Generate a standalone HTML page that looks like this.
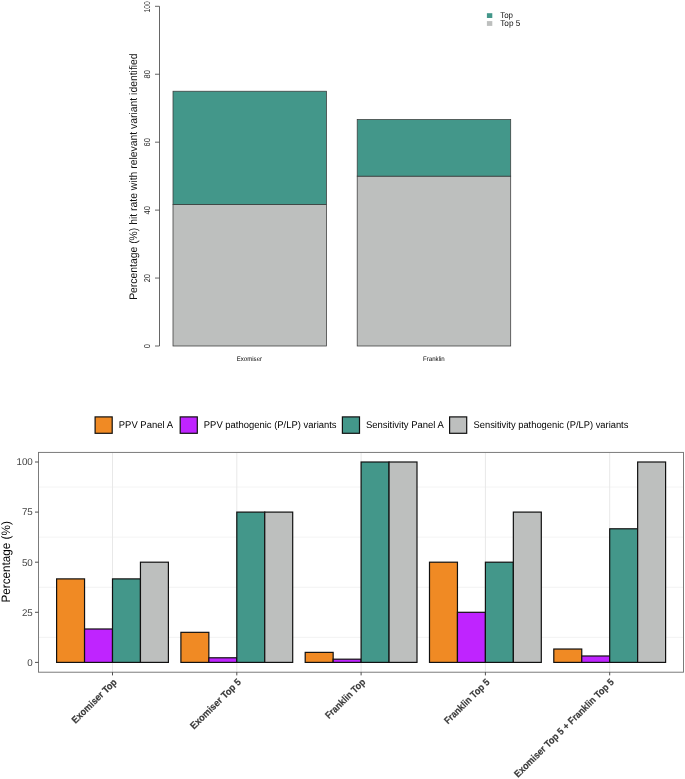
<!DOCTYPE html>
<html lang="en"><head><meta charset="utf-8"><title>Chart</title>
<style>html,body{margin:0;padding:0;background:#fff;}svg{display:block;will-change:transform;}text{font-family:"Liberation Sans",sans-serif;text-rendering:geometricPrecision;}</style></head><body>
<svg width="685" height="779" viewBox="0 0 685 779">
<rect x="0" y="0" width="685" height="779" fill="#ffffff"/>
<g id="chart1">
<g stroke="#4a4a4a" stroke-width="0.85" fill="none">
<line x1="159.5" y1="6.30" x2="159.5" y2="346.00"/>
<line x1="155.0" y1="346.00" x2="159.5" y2="346.00"/>
<line x1="155.0" y1="278.06" x2="159.5" y2="278.06"/>
<line x1="155.0" y1="210.12" x2="159.5" y2="210.12"/>
<line x1="155.0" y1="142.18" x2="159.5" y2="142.18"/>
<line x1="155.0" y1="74.24" x2="159.5" y2="74.24"/>
<line x1="155.0" y1="6.30" x2="159.5" y2="6.30"/>
</g>
<text transform="translate(150.00,346.10) rotate(-90)" text-anchor="middle" font-size="8.5" fill="#222" textLength="4.16" lengthAdjust="spacingAndGlyphs">0</text>
<text transform="translate(150.00,278.16) rotate(-90)" text-anchor="middle" font-size="8.5" fill="#222" textLength="8.32" lengthAdjust="spacingAndGlyphs">20</text>
<text transform="translate(150.00,210.22) rotate(-90)" text-anchor="middle" font-size="8.5" fill="#222" textLength="8.32" lengthAdjust="spacingAndGlyphs">40</text>
<text transform="translate(150.00,142.28) rotate(-90)" text-anchor="middle" font-size="8.5" fill="#222" textLength="8.32" lengthAdjust="spacingAndGlyphs">60</text>
<text transform="translate(150.00,74.34) rotate(-90)" text-anchor="middle" font-size="8.5" fill="#222" textLength="8.32" lengthAdjust="spacingAndGlyphs">80</text>
<text transform="translate(150.00,6.80) rotate(-90)" text-anchor="middle" font-size="8.5" fill="#222" textLength="11.35" lengthAdjust="spacingAndGlyphs">100</text>
<text transform="translate(136.80,176.60) rotate(-90)" text-anchor="middle" font-size="10.9" fill="#111" textLength="246.5" lengthAdjust="spacingAndGlyphs">Percentage (%) hit rate with relevant variant identified</text>
<rect x="173.0" y="204.45" width="153.50" height="141.55" fill="#BDBFBE" stroke="#3a3a3a" stroke-width="0.75"/>
<rect x="173.0" y="91.23" width="153.50" height="113.22" fill="#43978A" stroke="#3a3a3a" stroke-width="0.75"/>
<text transform="translate(249.40,360.90)" text-anchor="middle" font-size="6.7" fill="#000" textLength="25.2" lengthAdjust="spacingAndGlyphs">Exomiser</text>
<rect x="357.2" y="176.15" width="153.50" height="169.85" fill="#BDBFBE" stroke="#3a3a3a" stroke-width="0.75"/>
<rect x="357.2" y="119.52" width="153.50" height="56.63" fill="#43978A" stroke="#3a3a3a" stroke-width="0.75"/>
<text transform="translate(433.90,360.90)" text-anchor="middle" font-size="6.7" fill="#000" textLength="21.7" lengthAdjust="spacingAndGlyphs">Franklin</text>
<rect x="486.9" y="13.2" width="5.4" height="4.8" fill="#43978A"/>
<rect x="486.9" y="21.1" width="5.4" height="4.8" fill="#BDBFBE"/>
<text transform="translate(500.20,18.40)" text-anchor="start" font-size="8.5" fill="#111" textLength="12.8" lengthAdjust="spacingAndGlyphs">Top</text>
<text transform="translate(500.20,26.20)" text-anchor="start" font-size="8.5" fill="#111" textLength="20.1" lengthAdjust="spacingAndGlyphs">Top 5</text>
</g>
<g id="chart2">
<line x1="38.5" y1="637.35" x2="683.5" y2="637.35" stroke="#F0F0F0" stroke-width="0.8"/>
<line x1="38.5" y1="587.25" x2="683.5" y2="587.25" stroke="#F0F0F0" stroke-width="0.8"/>
<line x1="38.5" y1="537.15" x2="683.5" y2="537.15" stroke="#F0F0F0" stroke-width="0.8"/>
<line x1="38.5" y1="487.05" x2="683.5" y2="487.05" stroke="#F0F0F0" stroke-width="0.8"/>
<line x1="112.50" y1="452.4" x2="112.50" y2="672.2" stroke="#E8E8E8" stroke-width="1"/>
<line x1="236.80" y1="452.4" x2="236.80" y2="672.2" stroke="#E8E8E8" stroke-width="1"/>
<line x1="361.10" y1="452.4" x2="361.10" y2="672.2" stroke="#E8E8E8" stroke-width="1"/>
<line x1="485.40" y1="452.4" x2="485.40" y2="672.2" stroke="#E8E8E8" stroke-width="1"/>
<line x1="609.70" y1="452.4" x2="609.70" y2="672.2" stroke="#E8E8E8" stroke-width="1"/>
<rect x="56.60" y="578.89" width="27.95" height="83.51" fill="#F08A24" stroke="#111" stroke-width="1.2"/>
<rect x="84.55" y="628.99" width="27.95" height="33.41" fill="#BF24FF" stroke="#111" stroke-width="1.2"/>
<rect x="112.50" y="578.89" width="27.95" height="83.51" fill="#43978A" stroke="#111" stroke-width="1.2"/>
<rect x="140.45" y="562.20" width="27.95" height="100.20" fill="#BDBFBE" stroke="#111" stroke-width="1.2"/>
<rect x="180.90" y="632.34" width="27.95" height="30.06" fill="#F08A24" stroke="#111" stroke-width="1.2"/>
<rect x="208.85" y="657.79" width="27.95" height="4.61" fill="#BF24FF" stroke="#111" stroke-width="1.2"/>
<rect x="236.80" y="512.10" width="27.95" height="150.30" fill="#43978A" stroke="#111" stroke-width="1.2"/>
<rect x="264.75" y="512.10" width="27.95" height="150.30" fill="#BDBFBE" stroke="#111" stroke-width="1.2"/>
<rect x="305.20" y="652.38" width="27.95" height="10.02" fill="#F08A24" stroke="#111" stroke-width="1.2"/>
<rect x="333.15" y="659.19" width="27.95" height="3.21" fill="#BF24FF" stroke="#111" stroke-width="1.2"/>
<rect x="361.10" y="462.00" width="27.95" height="200.40" fill="#43978A" stroke="#111" stroke-width="1.2"/>
<rect x="389.05" y="462.00" width="27.95" height="200.40" fill="#BDBFBE" stroke="#111" stroke-width="1.2"/>
<rect x="429.50" y="562.20" width="27.95" height="100.20" fill="#F08A24" stroke="#111" stroke-width="1.2"/>
<rect x="457.45" y="612.30" width="27.95" height="50.10" fill="#BF24FF" stroke="#111" stroke-width="1.2"/>
<rect x="485.40" y="562.20" width="27.95" height="100.20" fill="#43978A" stroke="#111" stroke-width="1.2"/>
<rect x="513.35" y="512.10" width="27.95" height="150.30" fill="#BDBFBE" stroke="#111" stroke-width="1.2"/>
<rect x="553.80" y="649.03" width="27.95" height="13.37" fill="#F08A24" stroke="#111" stroke-width="1.2"/>
<rect x="581.75" y="655.99" width="27.95" height="6.41" fill="#BF24FF" stroke="#111" stroke-width="1.2"/>
<rect x="609.70" y="528.79" width="27.95" height="133.61" fill="#43978A" stroke="#111" stroke-width="1.2"/>
<rect x="637.65" y="462.00" width="27.95" height="200.40" fill="#BDBFBE" stroke="#111" stroke-width="1.2"/>
<rect x="38.5" y="452.4" width="645.00" height="219.80" fill="none" stroke="#707070" stroke-width="0.92"/>
<line x1="35.0" y1="662.40" x2="38.5" y2="662.40" stroke="#444" stroke-width="0.95"/>
<text transform="translate(32.80,665.70)" text-anchor="end" font-size="9.8" fill="#454545">0</text>
<line x1="35.0" y1="612.30" x2="38.5" y2="612.30" stroke="#444" stroke-width="0.95"/>
<text transform="translate(32.80,615.60)" text-anchor="end" font-size="9.8" fill="#454545">25</text>
<line x1="35.0" y1="562.20" x2="38.5" y2="562.20" stroke="#444" stroke-width="0.95"/>
<text transform="translate(32.80,565.50)" text-anchor="end" font-size="9.8" fill="#454545">50</text>
<line x1="35.0" y1="512.10" x2="38.5" y2="512.10" stroke="#444" stroke-width="0.95"/>
<text transform="translate(32.80,515.40)" text-anchor="end" font-size="9.8" fill="#454545">75</text>
<line x1="35.0" y1="462.00" x2="38.5" y2="462.00" stroke="#444" stroke-width="0.95"/>
<text transform="translate(32.80,465.30)" text-anchor="end" font-size="9.8" fill="#454545">100</text>
<text transform="translate(9.90,561.90) rotate(-90)" text-anchor="middle" font-size="12.2" fill="#000" textLength="81.4" lengthAdjust="spacingAndGlyphs">Percentage (%)</text>
<line x1="112.50" y1="672.2" x2="112.50" y2="675.4000000000001" stroke="#444" stroke-width="0.95"/>
<text transform="translate(117.40,682.80) rotate(-44.55)" text-anchor="end" font-size="9.8" fill="#3a3a3a" font-weight="bold" stroke="#3a3a3a" stroke-width="0.18" textLength="58.82" lengthAdjust="spacingAndGlyphs">Exomiser Top</text>
<line x1="236.80" y1="672.2" x2="236.80" y2="675.4000000000001" stroke="#444" stroke-width="0.95"/>
<text transform="translate(241.70,682.80) rotate(-44.55)" text-anchor="end" font-size="9.8" fill="#3a3a3a" font-weight="bold" stroke="#3a3a3a" stroke-width="0.18" textLength="67.05" lengthAdjust="spacingAndGlyphs">Exomiser Top 5</text>
<line x1="361.10" y1="672.2" x2="361.10" y2="675.4000000000001" stroke="#444" stroke-width="0.95"/>
<text transform="translate(366.00,682.80) rotate(-44.55)" text-anchor="end" font-size="9.8" fill="#3a3a3a" font-weight="bold" stroke="#3a3a3a" stroke-width="0.18" textLength="52.09" lengthAdjust="spacingAndGlyphs">Franklin Top</text>
<line x1="485.40" y1="672.2" x2="485.40" y2="675.4000000000001" stroke="#444" stroke-width="0.95"/>
<text transform="translate(490.30,682.80) rotate(-44.55)" text-anchor="end" font-size="9.8" fill="#3a3a3a" font-weight="bold" stroke="#3a3a3a" stroke-width="0.18" textLength="59.49" lengthAdjust="spacingAndGlyphs">Franklin Top 5</text>
<line x1="609.70" y1="672.2" x2="609.70" y2="675.4000000000001" stroke="#444" stroke-width="0.95"/>
<text transform="translate(614.60,682.80) rotate(-44.55)" text-anchor="end" font-size="9.8" fill="#3a3a3a" font-weight="bold" stroke="#3a3a3a" stroke-width="0.18" textLength="135.6" lengthAdjust="spacingAndGlyphs">Exomiser Top 5 + Franklin Top 5</text>
<rect x="95.1" y="416.9" width="17.1" height="16.4" fill="#F08A24" stroke="#111" stroke-width="1.2"/>
<text transform="translate(118.80,428.20)" text-anchor="start" font-size="9.8" fill="#000" textLength="54.2" lengthAdjust="spacingAndGlyphs">PPV Panel A</text>
<rect x="180.2" y="416.9" width="17.1" height="16.4" fill="#BF24FF" stroke="#111" stroke-width="1.2"/>
<text transform="translate(203.80,428.20)" text-anchor="start" font-size="9.8" fill="#000" textLength="132.8" lengthAdjust="spacingAndGlyphs">PPV pathogenic (P/LP) variants</text>
<rect x="342.4" y="416.9" width="17.1" height="16.4" fill="#43978A" stroke="#111" stroke-width="1.2"/>
<text transform="translate(365.90,428.20)" text-anchor="start" font-size="9.8" fill="#000" textLength="77.9" lengthAdjust="spacingAndGlyphs">Sensitivity Panel A</text>
<rect x="449.6" y="416.9" width="17.1" height="16.4" fill="#BDBFBE" stroke="#111" stroke-width="1.2"/>
<text transform="translate(473.50,428.20)" text-anchor="start" font-size="9.8" fill="#000" textLength="154.9" lengthAdjust="spacingAndGlyphs">Sensitivity pathogenic (P/LP) variants</text>
</g>
</svg></body></html>
